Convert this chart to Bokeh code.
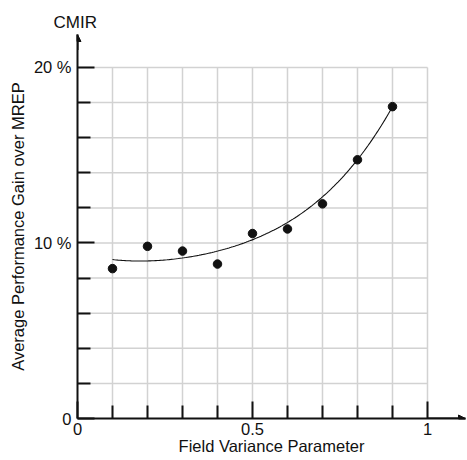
import numpy as np
from bokeh.plotting import figure
from bokeh.models import FixedTicker, Range1d, Arrow, NormalHead
from bokeh.embed import file_html
from bokeh.resources import INLINE

# ---- data ----
variance = [0.1, 0.2, 0.3, 0.4, 0.5, 0.6, 0.7, 0.8, 0.9]
gain = [8.54, 9.81, 9.54, 8.8, 10.54, 10.8, 12.23, 14.74, 17.77]
# trend curve as drawn in the reference, read at the same x positions
trend = [9.05, 9.0, 9.13, 9.53, 10.19, 11.19, 12.61, 14.75, 17.77]

x_major = [0, 0.5, 1]
x_minor = [0.1, 0.2, 0.3, 0.4, 0.6, 0.7, 0.8, 0.9]
y_major = [0, 10, 20]
y_minor = [2, 4, 6, 8, 12, 14, 16, 18]
x_grid = [0.1, 0.2, 0.3, 0.4, 0.5, 0.6, 0.7, 0.8, 0.9, 1.0]
y_grid = [2, 4, 6, 8, 10, 12, 14, 16, 18, 20]
y_labels = {0: "0", 10: "10 %", 20: "20 %"}

x_title = "Field Variance Parameter"
y_title = "Average Performance Gain over MREP"
top_title = "CMIR"

FONT = "Liberation Sans"
FS = "16.5px"
INK = "#111111"

# smooth trend line: least-squares quartic through the trend readings
coef = np.polyfit(variance, trend, 4)
fit_x = np.linspace(variance[0], variance[-1], 150)
fit_y = np.polyval(coef, fit_x)

p = figure(width=467, height=460, output_backend="svg", toolbar_location=None,
           x_range=Range1d(0, 1.1086), y_range=Range1d(0, 21.88),
           min_border_left=77, min_border_right=2, min_border_top=34, min_border_bottom=42)
p.outline_line_color = None
p.background_fill_color = "white"
p.border_fill_color = "white"
p.xgrid.visible = False
p.ygrid.visible = False

p.title.text = top_title
p.title.align = "left"
p.title.offset = -24
p.title.standoff = 6
p.title.text_font = FONT
p.title.text_font_size = "17px"
p.title.text_font_style = "normal"
p.title.text_color = INK

# grid
p.segment(x0=x_grid, y0=0, x1=x_grid, y1=max(y_grid), line_color="#d2d2d2", line_width=1.5)
p.segment(x0=0, y0=y_grid, x1=max(x_grid), y1=y_grid, line_color="#d2d2d2", line_width=1.5)

# trend + points
p.line(fit_x, fit_y, line_color=INK, line_width=1.1)
p.scatter(variance, gain, size=8.5, fill_color=INK, line_color=INK)

# axes
xa = p.xaxis[0]
xa.ticker = FixedTicker(ticks=x_major, minor_ticks=x_minor)
xa.major_tick_in = 17
xa.major_tick_out = 0
xa.minor_tick_in = 13
xa.minor_tick_out = 0
xa.major_label_standoff = 4
xa.axis_label = x_title
xa.axis_label_standoff = -1
ya = p.yaxis[0]
ya.ticker = FixedTicker(ticks=y_major, minor_ticks=y_minor)
ya.major_tick_in = 17
ya.major_tick_out = 0
ya.minor_tick_in = 13
ya.minor_tick_out = 0
ya.major_label_standoff = 6
ya.major_label_overrides = y_labels
ya.axis_label = y_title
ya.axis_label_standoff = 4
for ax in (xa, ya):
    ax.axis_line_width = 2
    ax.axis_line_color = INK
    ax.major_tick_line_width = 2
    ax.minor_tick_line_width = 2
    ax.major_tick_line_color = INK
    ax.minor_tick_line_color = INK
    ax.major_label_text_font = FONT
    ax.major_label_text_font_size = FS
    ax.major_label_text_color = INK
    ax.axis_label_text_font = FONT
    ax.axis_label_text_font_size = FS
    ax.axis_label_text_font_style = "normal"
    ax.axis_label_text_color = INK

# arrow heads on the axes
p.add_layout(Arrow(end=NormalHead(size=7, fill_color=INK, line_color=INK),
                   x_start=0, y_start=21.0, x_end=0, y_end=21.88,
                   line_color=INK, line_width=2))
p.add_layout(Arrow(end=NormalHead(size=7, fill_color=INK, line_color=INK),
                   x_start=1.0, y_start=0, x_end=1.1086, y_end=0,
                   line_color=INK, line_width=2))

open("out.html", "w").write(file_html(p, INLINE))
